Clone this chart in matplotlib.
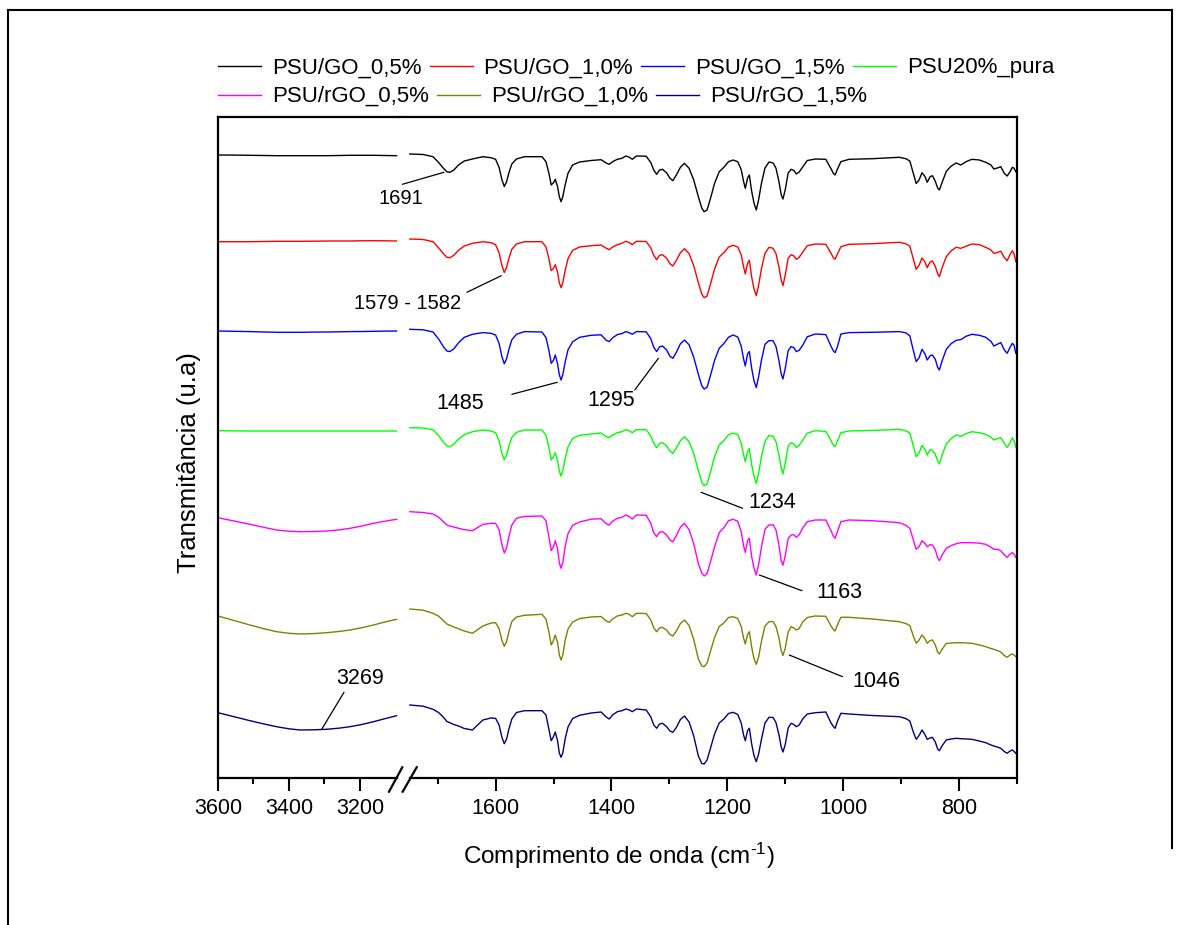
import matplotlib
matplotlib.use("Agg")
import numpy as np
import matplotlib.pyplot as plt
from matplotlib.lines import Line2D

plt.rcParams["font.family"] = ["Liberation Sans", "DejaVu Sans"]
plt.rcParams["mathtext.default"] = "regular"

# ---------------------------------------------------------------------------
# FTIR spectra (transmittance, arbitrary units, relative to each spectrum's start)
# ---------------------------------------------------------------------------
labels = ["PSU/GO_0,5%", "PSU/GO_1,0%", "PSU/GO_1,5%", "PSU20%_pura",
          "PSU/rGO_0,5%", "PSU/rGO_1,0%", "PSU/rGO_1,5%"]
colors = ["#000000", "#FF0000", "#0000FF", "#00FF00",
          "#FF00FF", "#808000", "#000080"]

# O-H stretching region (left panel)
wn_oh = [3600, 3555, 3510, 3470, 3435, 3400, 3369, 3330,
         3294, 3260, 3228, 3195, 3162, 3130, 3097]
oh_go05 = [-1.0, -1.1, -1.3, -1.5, -1.7, -1.7, -1.7, -1.7,
           -1.7, -1.5, -1.3, -1.3, -1.3, -1.5, -1.7]
oh_go10 = [-2.7, -2.7, -2.7, -2.5, -2.3, -2.3, -2.3, -2.2,
           -2.0, -2.0, -2.0, -1.8, -1.7, -1.8, -2.0]
oh_go15 = [-1.7, -2.0, -2.3, -2.7, -3.0, -3.0, -3.0, -2.8,
           -2.7, -2.5, -2.3, -2.2, -2.0, -1.8, -1.7]
oh_pura = [-3.0, -3.2, -3.3, -3.3, -3.3, -3.3, -3.3, -3.3,
           -3.3, -3.3, -3.3, -3.3, -3.3, -3.3, -3.3]
oh_rgo05 = [-6.0, -9.3, -12.6, -15.7, -18.3, -19.5, -20.0, -19.8,
            -19.3, -18.2, -16.6, -14.3, -11.6, -9.5, -7.6]
oh_rgo10 = [-7.0, -11.5, -16.0, -19.8, -22.7, -24.3, -25.0, -24.6,
            -23.7, -22.5, -21.0, -18.7, -16.0, -13.0, -10.3]
oh_rgo15 = [-7.7, -11.7, -15.7, -19.0, -21.7, -23.8, -25.0, -24.8,
            -24.3, -23.2, -21.7, -19.5, -16.7, -13.7, -10.7]

# fingerprint region (right panel)
wn_fp = [1748, 1725, 1708, 1698, 1690, 1684, 1679, 1672, 1664, 1654,
         1640, 1622, 1608, 1600, 1594, 1589, 1585, 1581, 1577, 1572,
         1564, 1550, 1520, 1513, 1508, 1504, 1500, 1497, 1493, 1490,
         1487, 1484, 1480, 1475, 1467, 1455, 1435, 1418, 1409, 1404,
         1398, 1390, 1382, 1375, 1369, 1364, 1357, 1340, 1332, 1327,
         1322, 1317, 1312, 1305, 1299, 1294, 1288, 1281, 1274, 1266,
         1258, 1250, 1244, 1240, 1235, 1229, 1222, 1214, 1206, 1198,
         1190, 1182, 1176, 1172, 1169, 1165, 1162, 1158, 1154, 1150,
         1146, 1141, 1135, 1128, 1121, 1116, 1111, 1107, 1104, 1100,
         1095, 1090, 1085, 1081, 1076, 1070, 1062, 1048, 1030, 1021,
         1017, 1014, 1010, 1004, 990, 950, 903, 892, 885, 879,
         874, 869, 864, 859, 855, 850, 846, 841, 837, 834,
         829, 822, 814, 805, 797, 788, 778, 765, 754, 745,
         740, 734, 728, 722, 717, 712, 708, 705, 702]

fp_go05 = [0, -0.5, -2.7, -8.7, -14.3, -17.7, -18.3, -16, -11, -7,
           -5, -2.7, -3.7, -5.3, -13.3, -26, -32.5, -27.7, -18.7, -10,
           -5, -2.7, -2.7, -7.7, -19.3, -31, -28.7, -25.3, -32.7, -42.7,
           -47.7, -42.7, -31, -19.3, -11, -8, -6.5, -5.7, -9, -10.3,
           -7.7, -5.3, -4.3, -2, -3.3, -5.3, -2, -2.2, -8.7, -16,
           -20.3, -16, -15.3, -18.7, -24.3, -26.7, -21, -13.3, -9.3, -14.3,
           -26, -42.7, -54.3, -57.7, -56, -44.3, -29.3, -17.7, -13.3, -7.7,
           -6, -7.7, -15.7, -27.3, -34.3, -24, -21, -37.3, -49, -56,
           -45.7, -29, -14, -8, -9, -14.3, -27.3, -40.7, -45, -35.7,
           -19, -15.3, -16.5, -20, -18, -13, -6.5, -5, -5.3, -14.7,
           -19.3, -21, -15.3, -7.7, -5.3, -4.7, -3.3, -4.7, -7, -19.3,
           -29.5, -26, -18.7, -22.3, -28.3, -22.7, -21.7, -27.3, -34, -36,
           -28, -17.3, -12.3, -9, -11, -7.7, -5.3, -6, -8.3, -11,
           -15, -14, -12.7, -19.3, -22, -17.7, -13.3, -14.3, -17.7]

fp_go10 = [0, -0.5, -2.7, -9, -14.7, -18.3, -18.7, -16.3, -11.3, -7,
           -4.3, -2.7, -3.7, -5.7, -13.7, -26.7, -33.5, -28.3, -19.3, -10.3,
           -5, -2.7, -2.7, -8, -19.7, -31.7, -29.3, -25.7, -33.3, -43.7,
           -48.7, -43.7, -31.7, -19.7, -11.3, -8, -6.7, -6, -9.3, -10.7,
           -8, -5.7, -4.3, -2.3, -3.7, -5.7, -2.3, -2.5, -9, -16.3,
           -20.7, -16.3, -15.7, -19, -24.7, -27, -21.3, -13.7, -9.7, -14.7,
           -26.7, -43.7, -55.3, -58.7, -57, -45, -30, -18, -13.7, -8,
           -6.3, -8, -16, -27.7, -35, -24.3, -21.3, -38, -49.7, -56.7,
           -46.3, -29.3, -14.3, -8.3, -9.3, -14.7, -27.7, -41, -46.7, -36,
           -19.3, -15.7, -17, -20.3, -18.3, -13.3, -6.7, -5, -5.3, -14.3,
           -18.7, -20.3, -15, -7.7, -5.3, -4.7, -3.3, -4.7, -7.3, -19.7,
           -30.3, -26.3, -19, -22.7, -28.7, -23, -22, -27.3, -34.7, -37.7,
           -28.3, -17.7, -12, -8.3, -9.3, -7.3, -5, -5.7, -8.3, -11,
           -14.3, -13.5, -12.3, -18.5, -21.7, -15.5, -11.7, -15, -22.7]

fp_go15 = [0, -0.5, -2.7, -10, -17.5, -21.7, -22.3, -19.5, -13.5, -8,
           -5, -3.3, -4, -5.7, -14, -27.5, -34.5, -29.5, -20, -10.5,
           -5, -2.3, -2.7, -8.3, -21, -34, -31, -25.7, -34.5, -45.5,
           -50.7, -45.5, -33, -20.5, -12.5, -8, -6, -5.5, -11, -12.3,
           -8.5, -5.3, -4.3, -2.3, -3.5, -5, -2.3, -2.5, -9.5, -18,
           -22.3, -17.5, -16.7, -20.5, -27, -29, -23, -14.5, -10.7, -15.5,
           -28, -45, -56.5, -59.7, -58, -46, -31, -19, -14.3, -8,
           -5.7, -7.7, -17, -29.5, -36.7, -24.5, -22.3, -39, -51.5, -58.3,
           -47.5, -30.5, -15, -11.3, -11.5, -17.3, -31, -44.5, -49.7, -39,
           -21.5, -17.3, -18.5, -22.3, -21, -16, -7.5, -4.7, -5.3, -17,
           -21.5, -23.3, -17.5, -4.7, -3.3, -3, -2.3, -3.5, -6.5, -21,
           -32.3, -28.5, -20, -24.5, -30.7, -26.5, -25.7, -30, -38, -40.7,
           -31, -20, -14.5, -11, -10.3, -7, -5, -6, -8, -12,
           -16.7, -15, -13.3, -20.5, -24, -18, -14, -16, -24]

fp_pura = [0, -0.3, -2, -8.3, -14.5, -18.3, -19, -16.5, -11.3, -7,
           -4, -2.3, -3.3, -5, -13, -25.7, -32, -27.3, -18.3, -9.7,
           -4.7, -2.3, -2.3, -7.5, -19.5, -32.3, -29, -25, -33, -43.3,
           -48.3, -43, -31.3, -19.3, -10.7, -7.7, -6.3, -5.3, -9, -10,
           -7.3, -5, -4, -2, -3.3, -5, -2, -2, -8.3, -15.7,
           -20, -15.7, -15, -18, -23.5, -25.7, -20.3, -13, -9, -14,
           -25.7, -43, -54.7, -58, -56.3, -44.3, -29, -17.3, -13, -7,
           -5.3, -7, -15.5, -27, -34, -23.7, -20.7, -37, -48.7, -55.7,
           -45.3, -28.7, -13.7, -7.7, -8.7, -14, -27, -40.3, -46.3, -35.3,
           -18.7, -15, -16.3, -19.7, -17.7, -12.5, -5.5, -3, -3.7, -13,
           -17.5, -19, -13.7, -5, -3.3, -2.7, -1.7, -3, -5.3, -18.3,
           -29, -25.3, -17.7, -21.5, -27.3, -22, -22.7, -26.7, -33.3, -36.3,
           -26.7, -16.3, -11, -7.3, -8.7, -6, -4, -5, -6.7, -9.5,
           -12.3, -11, -10, -15.5, -19.7, -15, -10, -13, -19.7]

fp_rgo05 = [0, -0.8, -2.3, -5.7, -10, -13.3, -14.3, -15.3, -16.6, -18,
            -19, -12.7, -11.6, -11.7, -18, -33, -41.3, -36, -25, -13.5,
            -6.5, -4.7, -4.3, -9, -25, -39, -35, -29, -37, -51,
            -56.6, -51, -35, -22, -13.5, -10.3, -7.5, -7, -12, -13.3,
            -9.5, -6.6, -5.6, -3.3, -5, -7.3, -3.3, -3.5, -12, -21,
            -25, -20.5, -20, -23, -28.3, -30, -24, -15.5, -11.6, -18,
            -32, -52, -61.5, -64.3, -62, -50, -35, -21, -16, -9,
            -7.6, -9.5, -20, -34, -40.6, -29, -26.6, -45, -56.5, -63.3,
            -53, -35, -17.5, -13.3, -13, -18.3, -33, -49, -53.5, -44,
            -27, -23.3, -23, -25.6, -23, -16.5, -10, -8.3, -8.3, -19,
            -24.5, -26.6, -20, -10, -8.3, -9, -11, -13.5, -16.6, -28,
            -37.6, -35, -29, -31.5, -35, -33, -33.3, -38, -46, -49,
            -43, -36.6, -34, -32, -31, -31, -31, -31.5, -32.6, -35.5,
            -37.6, -37.5, -39, -43, -45.6, -42.5, -41, -42.5, -45.6]

fp_rgo10 = [0, -1.2, -4.3, -7.3, -11.7, -15, -16.3, -18, -19.8, -22,
            -24.3, -17, -14, -13.7, -19.5, -31.5, -37.3, -32.5, -22.5, -12.5,
            -8, -6.3, -5.3, -10, -23, -36, -31.5, -26, -33.5, -46,
            -51, -46, -31.5, -20, -13, -9.5, -8, -7.5, -12, -13.3,
            -10, -7, -6, -4.3, -5.5, -7.7, -4.3, -4.5, -11, -19,
            -22.7, -19, -18.3, -21, -25.5, -27, -22, -14.5, -11, -16.5,
            -30.5, -50, -57, -57.7, -54, -42, -28.5, -17.5, -14, -8.5,
            -7.7, -9.5, -17.5, -29, -35, -25.5, -22.7, -38, -49.5, -55.3,
            -48, -32, -17, -12.7, -12.5, -17.7, -28.5, -41.5, -46.5, -39,
            -23, -17.7, -19, -21, -19.5, -13, -8.5, -7, -7.3, -17,
            -20.5, -22, -16, -8.3, -8.3, -10, -12.7, -14.5, -16.5, -27,
            -34.3, -31, -26, -29.5, -34.3, -31.5, -31, -36, -43, -45,
            -40, -34.5, -34, -33.7, -33.7, -34, -34.3, -36, -37.7, -39.5,
            -40.3, -41.5, -43, -46.5, -48.3, -46, -45, -46, -47.7]

fp_rgo15 = [0, -1.2, -4.3, -7.7, -12.3, -16.5, -17.7, -19.5, -21, -23.5,
            -25, -15, -13, -13.3, -20, -32.5, -38.7, -34, -24, -14,
            -7.5, -5.7, -5.7, -10, -24, -35.7, -31.5, -27, -36, -48,
            -52.3, -48, -34, -22, -13.5, -10.3, -8, -7, -12, -14,
            -10, -6.7, -5.7, -4, -5, -6.7, -4, -5, -12, -20,
            -23.3, -19, -18.3, -21.5, -26, -27.3, -22.5, -14.5, -11, -17,
            -31, -51, -58.5, -59, -55, -43, -29, -18, -14, -8.5,
            -7.3, -9.5, -18, -30, -35.7, -25.5, -23.3, -39, -50.5, -56.7,
            -49, -34, -18, -12.3, -12.5, -17.7, -29.5, -42, -47, -39.5,
            -23, -18.3, -19.5, -21.7, -20, -14, -9, -7.7, -7, -18,
            -21.5, -23.3, -16.5, -8.3, -9, -10.5, -11.7, -13.5, -16, -27,
            -34.3, -30.5, -25, -29.5, -34.3, -33, -32.3, -37, -44, -45.7,
            -40.5, -35, -34, -33.3, -33.7, -34, -34.3, -36, -37.7, -40,
            -41, -42, -43.3, -46.5, -48.3, -46, -45, -46.5, -48.3]

oh_series = [oh_go05, oh_go10, oh_go15, oh_pura, oh_rgo05, oh_rgo10, oh_rgo15]
fp_series = [fp_go05, fp_go10, fp_go15, fp_pura, fp_rgo05, fp_rgo10, fp_rgo15]

# peak assignments: (panel, text, point on band, leader start, text centre, size)
peak_notes = [
    ("r", "1691", (1689.1, 605.7), (1760.9, 593.7), (1763.8, 579.0), 14.5),
    ("r", "1579 - 1582", (1590.2, 502.3), (1649.5, 485.7), (1752.6, 474.0), 14.5),
    ("r", "1485", (1493.6, 395.7), (1571.9, 383.7), (1661.2, 374.5), 15.5),
    ("r", "1295", (1319.0, 419.7), (1359.8, 388.0), (1400.0, 377.0), 15.5),
    ("r", "1234", (1245.3, 285.7), (1173.6, 269.7), (1122.4, 275.0), 15.5),
    ("r", "1163", (1144.8, 203.0), (1071.2, 187.3), (1006.9, 185.0), 15.5),
    ("r", "1046", (1093.1, 123.0), (1001.2, 101.3), (942.2, 96.3), 15.5),
    ("l", "3269", (3307.9, 48.7), (3245.1, 85.7), (3200.0, 99.0), 15.5),
]

# ---------------------------------------------------------------------------
W, H = 1179, 925
fig = plt.figure(figsize=(W / 100, H / 100), dpi=100)


def fx(px):
    return px / W


def fy(py):
    return 1 - py / H


y_top, y_bot = 117, 778
x_left, x_split, x_right = 218, 400, 1017
ax_l = fig.add_axes([fx(x_left), fy(y_bot), (x_split - x_left) / W, (y_bot - y_top) / H])
ax_r = fig.add_axes([fx(x_split), fy(y_bot), (x_right - x_split) / W, (y_bot - y_top) / H])

ax_l.set_xlim(3600, 3087.3)
ax_r.set_xlim(1765.0, 700.0)
stack = [624.0, 539.0, 448.7, 350.3, 266.3, 169.0, 73.0]
for ax in (ax_l, ax_r):
    ax.set_ylim(0, 661)
    ax.set_yticks([])
    for s in ax.spines.values():
        s.set_linewidth(1.6)

for oh, fp, col, off in zip(oh_series, fp_series, colors, stack):
    ax_l.plot(wn_oh, np.asarray(oh) + off, color=col, lw=1.0)
    ax_r.plot(wn_fp, np.asarray(fp) + off, color=col, lw=1.0)

# broken axis
ax_l.spines["right"].set_visible(False)
ax_r.spines["left"].set_visible(False)
ax_l.spines["bottom"].set_bounds(3600, 3097)
ax_r.spines["bottom"].set_bounds(1748, 700)

ax_l.set_xticks([3600, 3400, 3200])
ax_l.set_xticks([3500, 3300], minor=True)
ax_r.set_xticks([1600, 1400, 1200, 1000, 800])
ax_r.set_xticks([1700, 1500, 1300, 1100, 900, 700], minor=True)
for ax in (ax_l, ax_r):
    ax.tick_params(axis="x", which="major", direction="out", length=9.1,
                   width=1.5, labelsize=15.5, pad=5.5)
    ax.tick_params(axis="x", which="minor", direction="out", length=4.3, width=1.5)

for (xa, ya), (xb, yb) in [((389, 791.7), (402.3, 767.3)), ((402.7, 791.7), (416.7, 767.3))]:
    fig.add_artist(Line2D([fx(xa), fx(xb)], [fy(ya), fy(yb)], color="black", lw=1.6))

# peak labels
for panel, txt, tip, tail, pos, size in peak_notes:
    ax = ax_r if panel == "r" else ax_l
    ax.annotate("", xy=tip, xytext=tail, annotation_clip=False,
                arrowprops=dict(arrowstyle="-", lw=0.9, color="black",
                                shrinkA=0, shrinkB=0))
    ax.text(pos[0], pos[1], txt, fontsize=size, ha="center", va="center")

# axis titles
fig.text(fx(619), fy(864), "Comprimento de onda (cm$^{\u20101}$)", fontsize=17.5,
         ha="center", va="baseline")
fig.text(fx(189), fy(463), "Transmitância (u.a)", fontsize=18.5,
         ha="center", va="center", rotation=90)

# legend in two rows
renderer = fig.canvas.get_renderer()
rows = [[0, 1, 2, 3], [4, 5, 6]]
row_line_y = [66, 94.5]
row_base_y = [73.5, 102]
for r, idx in enumerate(rows):
    x = 218.0
    for i in idx:
        fig.add_artist(Line2D([fx(x), fx(x + 43)], [fy(row_line_y[r])] * 2,
                              color=colors[i], lw=1.0))
        t = fig.text(fx(x + 54), fy(row_base_y[r]), labels[i], fontsize=16,
                     ha="left", va="baseline")
        bb = t.get_window_extent(renderer=renderer)
        x = bb.x1 + 8

# outer frame
frame = [((8, 10), (1172, 10)), ((8, 10), (8, 925)), ((1172, 10), (1172, 848))]
for (xa, ya), (xb, yb) in frame:
    fig.add_artist(Line2D([fx(xa), fx(xb)], [fy(ya), fy(yb)], color="black", lw=1.5))

fig.savefig("out.png", dpi=100)
